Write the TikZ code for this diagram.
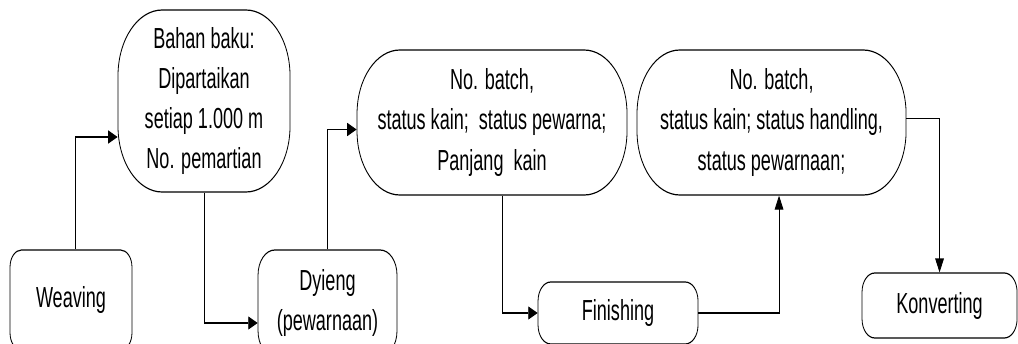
\documentclass[tikz,border=0pt]{standalone}
\usepackage{fontspec}
\setmainfont{Liberation Sans}[FakeStretch=0.93]
\usetikzlibrary{arrows.meta}

\tikzset{
  box/.style={draw, line width=0.6pt, rounded corners=9.5pt, align=center, inner sep=0pt, font=\fontsize{14.5}{20}\selectfont},
  info/.style={box, rounded corners=32pt},
  link/.style={line width=0.6pt, ->}
}

\begin{document}
\begin{tikzpicture}[>={Triangle[length=7pt,width=6.5pt]}]
\useasboundingbox (0,0) rectangle (509pt,-171.5pt);
\clip (0,0) rectangle (509pt,-171.5pt);
\begin{scope}[transform canvas={xscale=0.67}, x=0.7463pt, y=-0.5pt]
% process steps
\node[box, rounded corners=8.5pt, minimum width=91pt, minimum height=50pt] (weaving) at (71,300) {Weaving};
\node[box, rounded corners=12.5pt, minimum width=103.7pt, minimum height=53pt] (dyieng) at (327.5,303) {Dyieng\\(pewarnaan)};
\node[box, minimum width=119.4pt, minimum height=31pt] (finishing) at (618,313) {Finishing};
\node[box, minimum width=115.7pt, minimum height=32.5pt] (konverting) at (939.5,305.5) {Konverting};
% data kept at each step
\node[info, rounded corners=33pt, minimum width=128.4pt, minimum height=91pt] (bahan) at (204,101) {Bahan baku:\\Dipartaikan\\setiap 1.000 m\\No. pemartian};
\node[info, minimum width=201.5pt, minimum height=72.5pt] (batch) at (492,122.5) {No. batch,\\status kain;\ \ status pewarna;\\Panjang\ \ kain};
\node[info, minimum width=200.8pt, minimum height=72.5pt] (handling) at (771.5,122.5) {No. batch,\\status kain; status handling,\\status pewarnaan;};
% flow
\draw[link] ([xshift=3pt]weaving.north) |- ([yshift=-18pt]bahan.west);
\draw[link] (bahan.south) |- ([yshift=-10pt]dyieng.west);
\draw[link] (dyieng.north) |- ([yshift=-3.5pt]batch.west);
\draw[link] ([xshift=7.5pt]batch.south) |- (finishing.west);
\draw[link] (finishing.east) -| ([xshift=5.6pt]handling.south);
\draw[link] ([yshift=2pt]handling.east) -| (konverting.north);
\end{scope}
\end{tikzpicture}
\end{document}
